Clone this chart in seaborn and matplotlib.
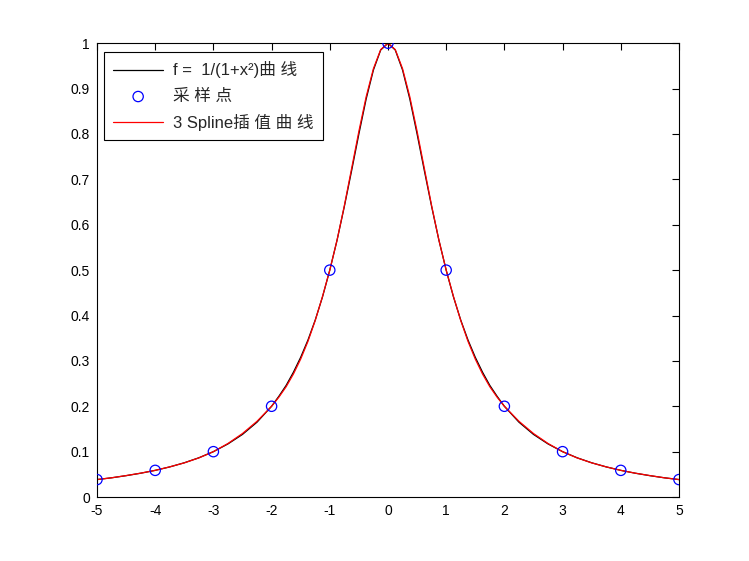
import matplotlib
matplotlib.use("Agg")
import matplotlib.pyplot as plt
import seaborn as sns
import pandas as pd

# Sample points
sample_x = [-5, -4, -3, -2, -1, 0, 1, 2, 3, 4, 5]
sample_y = [0.0385, 0.0588, 0.1, 0.2, 0.5, 1.0, 0.5, 0.2, 0.1, 0.0588, 0.0385]

# Black curve f = 1/(1+x^2) (right half, mirrored)
curve_x_half = [0, 0.125, 0.25, 0.375, 0.5, 0.625, 0.75, 0.875, 1, 1.125, 1.25,
                1.375, 1.5, 1.625, 1.75, 1.875, 2, 2.25, 2.5, 2.75, 3,
                3.25, 3.5, 3.75, 4, 4.25, 4.5, 4.75, 5]
f_y_half = [1.0, 0.985, 0.941, 0.877, 0.8, 0.719, 0.64, 0.566, 0.5, 0.441, 0.39,
            0.346, 0.308, 0.275, 0.246, 0.222, 0.2, 0.165, 0.138, 0.117, 0.1,
            0.0865, 0.0755, 0.0664, 0.0588, 0.0525, 0.0471, 0.0424, 0.0385]
# Red spline curve values read at the same positions
spline_y_half = [1.0, 0.986, 0.944, 0.882, 0.806, 0.724, 0.642, 0.566, 0.5, 0.442, 0.389,
                 0.343, 0.304, 0.271, 0.243, 0.22, 0.2, 0.167, 0.14, 0.118, 0.1,
                 0.0862, 0.0753, 0.0665, 0.0588, 0.0526, 0.0473, 0.0424, 0.0385]

legend_labels = ["f =  1/(1+x²)曲 线", "采 样 点", "3 Spline插 值 曲 线"]
xticks = [-5, -4, -3, -2, -1, 0, 1, 2, 3, 4, 5]
yticks = [0, 0.1, 0.2, 0.3, 0.4, 0.5, 0.6, 0.7, 0.8, 0.9, 1]

curve_x = [-v for v in curve_x_half[:0:-1]] + curve_x_half
f_y = f_y_half[:0:-1] + f_y_half
spline_y = spline_y_half[:0:-1] + spline_y_half

df_curve = pd.DataFrame({"x": curve_x, "f": f_y, "s": spline_y})
df_pts = pd.DataFrame({"x": sample_x, "y": sample_y})

sns.set_style("white")
plt.rcParams["font.family"] = ["Liberation Sans", "Noto Sans CJK SC", "DejaVu Sans"]

fig = plt.figure(figsize=(7.49, 5.61), dpi=100)
ax = fig.add_axes([0.1295, 0.114, 0.777, 0.809])

sns.lineplot(data=df_curve, x="x", y="f", ax=ax, color="black", linewidth=0.9,
             label=legend_labels[0], sort=False)
sns.scatterplot(data=df_pts, x="x", y="y", ax=ax, marker="o", s=55,
                facecolor="none", edgecolor="#0000ff", linewidth=0.9,
                label=legend_labels[1], zorder=3)
sns.lineplot(data=df_curve, x="x", y="s", ax=ax, color="#ff0000", linewidth=0.9,
             label=legend_labels[2], sort=False)

ax.set_xlim(-5, 5)
ax.set_ylim(0, 1)
ax.set_xticks(xticks)
ax.set_yticks(yticks)
ax.set_xticklabels([str(t) for t in xticks])
ax.set_yticklabels([("%g" % t) for t in yticks])
ax.set_xlabel("")
ax.set_ylabel("")
ax.tick_params(direction="in", length=5, width=0.8, top=True, right=True,
               labelsize=10, colors="black", pad=5)
for sp in ax.spines.values():
    sp.set_visible(True)
    sp.set_color("black")
    sp.set_linewidth(0.8)

leg = ax.legend(loc="upper left", bbox_to_anchor=(0.012, 0.98), fontsize=12,
                frameon=True, fancybox=False, edgecolor="black", framealpha=1,
                handlelength=3.0, labelspacing=0.62, borderpad=0.55,
                handletextpad=0.6, borderaxespad=0)
leg.get_frame().set_linewidth(0.8)

fig.savefig("out.png", dpi=100, facecolor="white")
